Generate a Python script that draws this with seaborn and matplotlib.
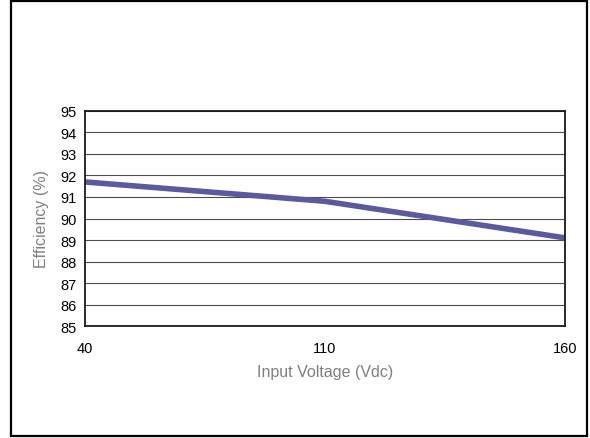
"""
Efficiency vs input voltage — reproduction d'une courbe de datasheet.
"""
import matplotlib
matplotlib.use("Agg")
import matplotlib.pyplot as plt
import seaborn as sns
import pandas as pd
from matplotlib.patches import Rectangle

# Données
voltages = ["40", "110", "160"]
efficiency = [91.7, 90.8, 89.1]
y_ticks = list(range(85, 96))

LINE_COLOR = "#5a5a9c"
LABEL_GREY = "#7f7f7f"

sns.set_theme(style="white")
plt.rcParams["font.family"] = ["Liberation Sans", "DejaVu Sans"]

df = pd.DataFrame({"Voltage": voltages, "Efficiency": efficiency})

fig = plt.figure(figsize=(5.9, 4.39), dpi=100)
ax = fig.add_axes([0.1441, 0.2551, 0.8135, 0.4898])

sns.lineplot(data=df, x="Voltage", y="Efficiency", ax=ax,
             color=LINE_COLOR, linewidth=4.0, solid_capstyle="butt")

ax.set_xlim(0, len(voltages) - 1)
ax.set_ylim(85, 95)
ax.set_yticks(y_ticks)
ax.yaxis.grid(True, color="#4d4d4d", linewidth=0.8)
ax.set_axisbelow(True)

for sp in ax.spines.values():
    sp.set_visible(True)
    sp.set_color("#1a1a1a")
    sp.set_linewidth(1.3)

ax.tick_params(axis="y", length=0, pad=6, labelsize=10.5, labelcolor="black")
ax.tick_params(axis="x", direction="in", length=5, width=0.8, color="#aaaaaa",
               pad=11, labelsize=10.5, labelcolor="black")

ax.set_xlabel("Input Voltage (Vdc)", color=LABEL_GREY, fontsize=11.5, labelpad=6)
ax.set_ylabel("Efficiency (%)", color=LABEL_GREY, fontsize=11.5, labelpad=8)

# Cadre extérieur
fig.patches.append(Rectangle((11 / 590, 2 / 439), 576 / 590, 435 / 439,
                             transform=fig.transFigure, fill=False,
                             edgecolor="black", linewidth=1.6))

fig.savefig("out.png", dpi=100, facecolor="white")
